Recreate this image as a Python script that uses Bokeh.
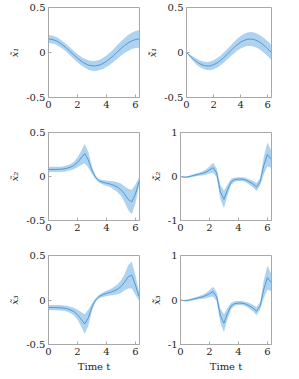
from bokeh.plotting import figure
from bokeh.layouts import column, row
from bokeh.models import FixedTicker, Range1d
from bokeh.embed import file_html
from bokeh.resources import INLINE

t = [0, 0.25, 0.5, 0.75, 1, 1.25, 1.5, 1.75, 2, 2.25, 2.5, 2.75, 3, 3.25,
     3.5, 3.75, 4, 4.25, 4.5, 4.75, 5, 5.25, 5.5, 5.75, 6, 6.25]

x1_mean = [0.150, 0.145, 0.132, 0.110, 0.081, 0.047, 0.011, -0.027, -0.062, -0.094,
           -0.120, -0.139, -0.148, -0.149, -0.140, -0.123, -0.098, -0.067, -0.032,
           0.006, 0.043, 0.078, 0.106, 0.129, 0.144, 0.150]
x1_std = [0.045, 0.044, 0.043, 0.042, 0.042, 0.042, 0.043, 0.044, 0.046, 0.048, 0.050,
          0.052, 0.054, 0.056, 0.058, 0.061, 0.064, 0.068, 0.072, 0.076, 0.080, 0.084,
          0.088, 0.091, 0.094, 0.096]

v1_mean = [0.0, -0.037, -0.072, -0.102, -0.126, -0.142, -0.150, -0.148, -0.136, -0.117,
           -0.090, -0.057, -0.021, 0.016, 0.053, 0.086, 0.114, 0.134, 0.147, 0.150,
           0.144, 0.129, 0.106, 0.076, 0.042, 0.005]
v1_std = [0.005, 0.015, 0.025, 0.033, 0.038, 0.042, 0.045, 0.048, 0.050, 0.052, 0.054,
          0.056, 0.058, 0.060, 0.063, 0.066, 0.069, 0.072, 0.075, 0.077, 0.079, 0.080,
          0.081, 0.082, 0.083, 0.084]

x2_mean = [0.08, 0.08, 0.08, 0.082, 0.085, 0.092, 0.105, 0.125, 0.16, 0.21, 0.26, 0.19,
           0.07, -0.01, -0.05, -0.065, -0.075, -0.085, -0.10, -0.12, -0.15, -0.20, -0.26,
           -0.29, -0.20, -0.06]
x2_std = [0.03, 0.03, 0.03, 0.03, 0.03, 0.032, 0.035, 0.042, 0.055, 0.08, 0.11, 0.09,
          0.04, 0.02, 0.02, 0.025, 0.03, 0.035, 0.045, 0.055, 0.07, 0.09, 0.12, 0.14,
          0.11, 0.05]

v2_mean = [0.0, -0.015, -0.01, 0.01, 0.03, 0.05, 0.07, 0.10, 0.15, 0.20, 0.08, -0.35,
           -0.52, -0.30, -0.12, -0.07, -0.06, -0.06, -0.08, -0.12, -0.17, -0.24, -0.12,
           0.25, 0.50, 0.40]
v2_std = [0.01, 0.015, 0.02, 0.025, 0.03, 0.035, 0.045, 0.06, 0.08, 0.11, 0.10, 0.16,
          0.20, 0.12, 0.07, 0.05, 0.045, 0.045, 0.05, 0.06, 0.075, 0.09, 0.08, 0.20,
          0.27, 0.20]

x3_mean = [-0.085, -0.085, -0.085, -0.087, -0.09, -0.097, -0.11, -0.13, -0.165, -0.215,
           -0.27, -0.20, -0.08, 0.0, 0.04, 0.06, 0.075, 0.085, 0.10, 0.12, 0.15, 0.20,
           0.26, 0.28, 0.17, 0.04]
x3_std = [0.03, 0.03, 0.03, 0.03, 0.03, 0.032, 0.035, 0.042, 0.055, 0.08, 0.11, 0.09,
          0.04, 0.02, 0.02, 0.025, 0.03, 0.035, 0.045, 0.055, 0.07, 0.09, 0.13, 0.15,
          0.11, 0.05]

v3_mean = [0.0, -0.015, -0.01, 0.01, 0.03, 0.05, 0.07, 0.10, 0.14, 0.19, 0.07, -0.35,
           -0.52, -0.30, -0.13, -0.08, -0.07, -0.07, -0.09, -0.13, -0.18, -0.25, -0.13,
           0.24, 0.50, 0.40]
v3_std = [0.01, 0.015, 0.02, 0.025, 0.03, 0.035, 0.045, 0.06, 0.08, 0.11, 0.10, 0.16,
          0.20, 0.12, 0.07, 0.05, 0.045, 0.045, 0.05, 0.06, 0.075, 0.09, 0.08, 0.20,
          0.27, 0.20]

x_ticks = [0, 2, 4, 6]
labels = ["x\u0303\u2081", "x\u0303\u0307\u2081",
          "x\u0303\u2082", "x\u0303\u0307\u2082",
          "x\u0303\u2083", "x\u0303\u0307\u2083"]
series = [(x1_mean, x1_std), (v1_mean, v1_std),
          (x2_mean, x2_std), (v2_mean, v2_std),
          (x3_mean, x3_std), (v3_mean, v3_std)]
y_lims = [0.5, 0.5, 0.5, 1, 0.5, 1]

FONT = "DejaVu Serif"
AX = "#a8a8a8"
TXT = "#262626"

figs = []
for i, ((m, s), lab, lim) in enumerate(zip(series, labels, y_lims)):
    r, c = divmod(i, 2)
    top = [7, 8, 8][r]
    fh = [90, 88, 89][r]
    bottom = [27, 27, 30][r]
    left = 48 if c == 0 else 36
    right = 5 if c == 0 else 8
    p = figure(width=left + 91 + right, height=top + fh + bottom,
               output_backend="svg",
               toolbar_location=None, x_range=Range1d(0, 6.2832),
               y_range=Range1d(-lim, lim),
               min_border_left=left, min_border_right=right,
               min_border_top=top, min_border_bottom=bottom)
    lo = [a - b for a, b in zip(m, s)]
    hi = [a + b for a, b in zip(m, s)]
    p.varea(x=t, y1=lo, y2=hi, fill_color="#add3f0", fill_alpha=1.0)
    p.line(t, m, line_color="#3f89c9", line_width=0.8)
    p.xgrid.visible = False
    p.ygrid.visible = False
    p.outline_line_color = AX
    p.outline_line_width = 1
    p.xaxis.ticker = FixedTicker(ticks=x_ticks)
    p.yaxis.ticker = FixedTicker(ticks=[-lim, 0, lim])
    p.yaxis.major_label_overrides = {-lim: ("-0.5" if lim == 0.5 else "-1"),
                                     0: "0",
                                     lim: ("0.5" if lim == 0.5 else "1")}
    for ax in (p.xaxis[0], p.yaxis[0]):
        ax.axis_line_color = AX
        ax.major_tick_line_color = AX
        ax.major_tick_in = 3
        ax.major_tick_out = 0
        ax.minor_tick_line_color = None
        ax.major_label_text_font = FONT
        ax.major_label_text_font_size = "10px"
        ax.major_label_text_color = TXT
        ax.major_label_standoff = 3
        ax.axis_label_text_font = FONT
        ax.axis_label_text_font_size = "10px"
        ax.axis_label_text_font_style = "italic"
        ax.axis_label_text_color = TXT
        ax.axis_label_standoff = 3
    p.yaxis.axis_label = lab
    if r == 2:
        p.xaxis.axis_label = "Time t"
        p.xaxis.axis_label_text_font_style = "normal"
    figs.append(p)

layout = column(row(figs[0], figs[1]), row(figs[2], figs[3]), row(figs[4], figs[5]))

open("out.html", "w").write(file_html(layout, INLINE))
